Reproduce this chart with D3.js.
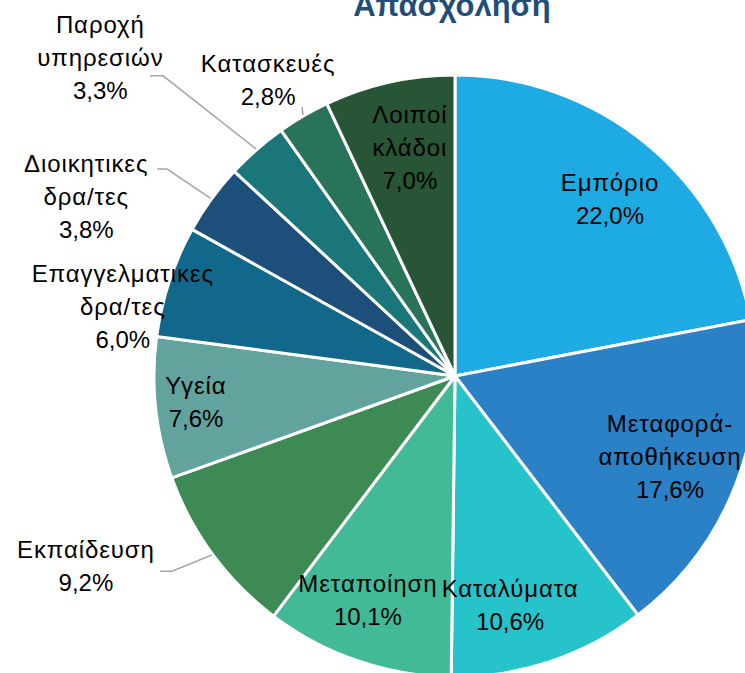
<!DOCTYPE html>
<html>
<head>
<meta charset="utf-8">
<script src="https://cdn.jsdelivr.net/npm/d3@7"></script>
<style>
  body { margin: 0; background: #fff; }
  svg { display: block; font-family: "Liberation Sans", Arial, sans-serif; }
</style>
</head>
<body>
<svg id="chart" width="745" height="673"></svg>
<script>
const title = "Απασχόληση";

// line breaks as in the original labels
const categories = [
  "Εμπόριο",
  "Μεταφορά-\nαποθήκευση",
  "Καταλύματα",
  "Μεταποίηση",
  "Εκπαίδευση",
  "Υγεία",
  "Επαγγελματικες\nδρα/τες",
  "Διοικητικες\nδρα/τες",
  "Παροχή\nυπηρεσιών",
  "Κατασκευές",
  "Λοιποί\nκλάδοι",
];
const shares = [22.0, 17.6, 10.6, 10.1, 9.2, 7.6, 6.0, 3.8, 3.3, 2.8, 7.0];
const colors = [
  "#1eabe3", "#2a81c5", "#26c3ca", "#42ba97", "#3e8a55", "#63a39e",
  "#12688a", "#1c4f79", "#1a7678", "#2a735b", "#275536",
];

// label placement: [angle in degrees from 12 o'clock, distance / radius]
const labelPolar = [
  [41.3, 0.78], [110.6, 0.763], [166.5, 0.784], [201.2, 0.8], [242.7, 1.38],
  [264.2, 0.865], [281.7, 1.127], [295.9, 1.362], [311.9, 1.583], [327.7, 1.162],
  [348.8, 0.772],
];
// leader lines for outside labels: elbow [angle, distance / radius, horizontal length]
const leaders = {
  4: [235.4, 1.142, 12],
  7: [305.7, 1.178, 10],
  8: [315.8, 1.391, 13],
  9: [330.4, 1.028, 0],
};

const width = 745, height = 673;
const cx = 455, cy = 376, radius = 301;
const lineGap = 33;

const svg = d3.select("#chart");

svg.append("text")
  .attr("x", 452)
  .attr("y", 16)
  .attr("text-anchor", "middle")
  .attr("font-size", 31)
  .attr("font-weight", "bold")
  .attr("fill", "#1f4e79")
  .text(title);

const g = svg.append("g").attr("transform", `translate(${cx},${cy})`);

const pie = d3.pie().sort(null).value((d) => d);
const arcs = pie(shares);
const arc = d3.arc().innerRadius(0).outerRadius(radius);

g.selectAll("path.slice")
  .data(arcs)
  .join("path")
  .attr("class", "slice")
  .attr("d", arc)
  .attr("fill", (d, i) => colors[i])
  .attr("stroke", "#fff")
  .attr("stroke-width", 3)
  .attr("stroke-linejoin", "round");

function polar(deg, dist) {
  const a = (deg * Math.PI) / 180;
  return [dist * Math.sin(a), -dist * Math.cos(a)];
}

const fmt = (v) => d3.format(".1f")(v).replace(".", ",") + "%";

// leader lines
const line = d3.line();
for (const [k, [ang, f, len]] of Object.entries(leaders)) {
  const d = arcs[k];
  const mid = ((d.startAngle + d.endAngle) / 2) * 180 / Math.PI;
  const [ex, ey] = polar(ang, radius * f);
  const [ax, ay] = polar(mid, radius + 1);
  g.append("path")
    .attr("d", line([[ex - len, ey], [ex, ey], [ax, ay]]))
    .attr("fill", "none")
    .attr("stroke", "#a6a6a6")
    .attr("stroke-width", 1.5);
}

// data labels
arcs.forEach((d, i) => {
  const names = categories[i].split("\n");
  const lines = names.concat(fmt(shares[i]));
  const [lx, ly] = polar(labelPolar[i][0], radius * labelPolar[i][1]);
  const y0 = ly - ((lines.length - 1) * lineGap) / 2 + 8;
  const t = g.append("text")
    .attr("text-anchor", "middle")
    .attr("font-size", 24)
    .attr("fill", "#000");
  lines.forEach((s, j) => {
    t.append("tspan")
      .attr("x", lx)
      .attr("y", y0 + j * lineGap)
      .attr("letter-spacing", j < names.length ? 0.9 : 0)
      .text(s);
  });
});
</script>
</body>
</html>
